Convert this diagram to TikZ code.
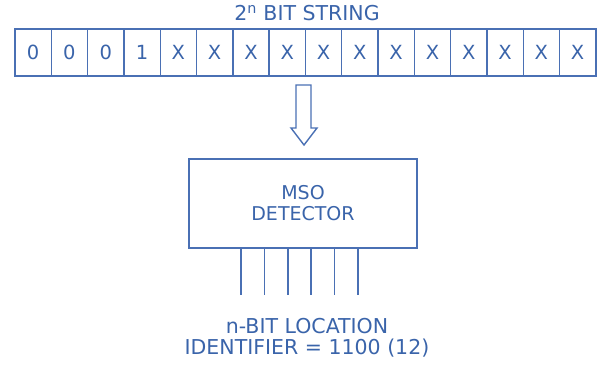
\documentclass[tikz,border=0pt]{standalone}
\usepackage{fontspec}
\setmainfont{DejaVu Sans}
\definecolor{msoblue}{RGB}{58,100,170}
\definecolor{msoline}{RGB}{74,112,180}

\begin{document}
\begin{tikzpicture}[x=1pt,y=-1pt,
    bitcell/.style = {draw=msoline, line width=1.4pt, minimum width=36.3pt, minimum height=47pt,
                      inner sep=0pt, text=msoblue, font=\fontsize{19.5}{19.5}\selectfont},
    label/.style = {text=msoblue, font=\fontsize{19}{21}\selectfont, align=center},
    biglabel/.style = {label, font=\fontsize{20.5}{21}\selectfont}]
  \useasboundingbox (0,0) rectangle (597,366);
  \node[biglabel] (title) at (307,13) {2\textsuperscript{n} BIT STRING};
  \foreach \b [count=\i] in {0,0,0,1,X,X,X,X,X,X,X,X,X,X,X,X}
    \node[bitcell] (b\i) at ({15+36.3*(\i-0.5)},52.5) {\b};
  % hollow arrow
  \coordinate (tip) at (304,145);
  \draw[msoline, line width=1.4pt, line join=miter]
    (296,85) -- (311,85) -- (311,128) -- (317,128) -- (tip) -- (291,128) -- (296,128) -- cycle;
  \node[draw=msoline, line width=1.4pt, minimum width=228pt, minimum height=89pt,
        label, inner sep=0pt] (det) at (303,203.5) {MSO\\DETECTOR};
  \foreach \k in {0,...,5}
    \draw[msoline, line width=1.5pt] ({241+23.4*\k},248) coordinate (o\k) -- ++(0,47);
  \node[biglabel] (loc) at (307,338) {n-BIT LOCATION\\IDENTIFIER = 1100 (12)};
\end{tikzpicture}
\end{document}
